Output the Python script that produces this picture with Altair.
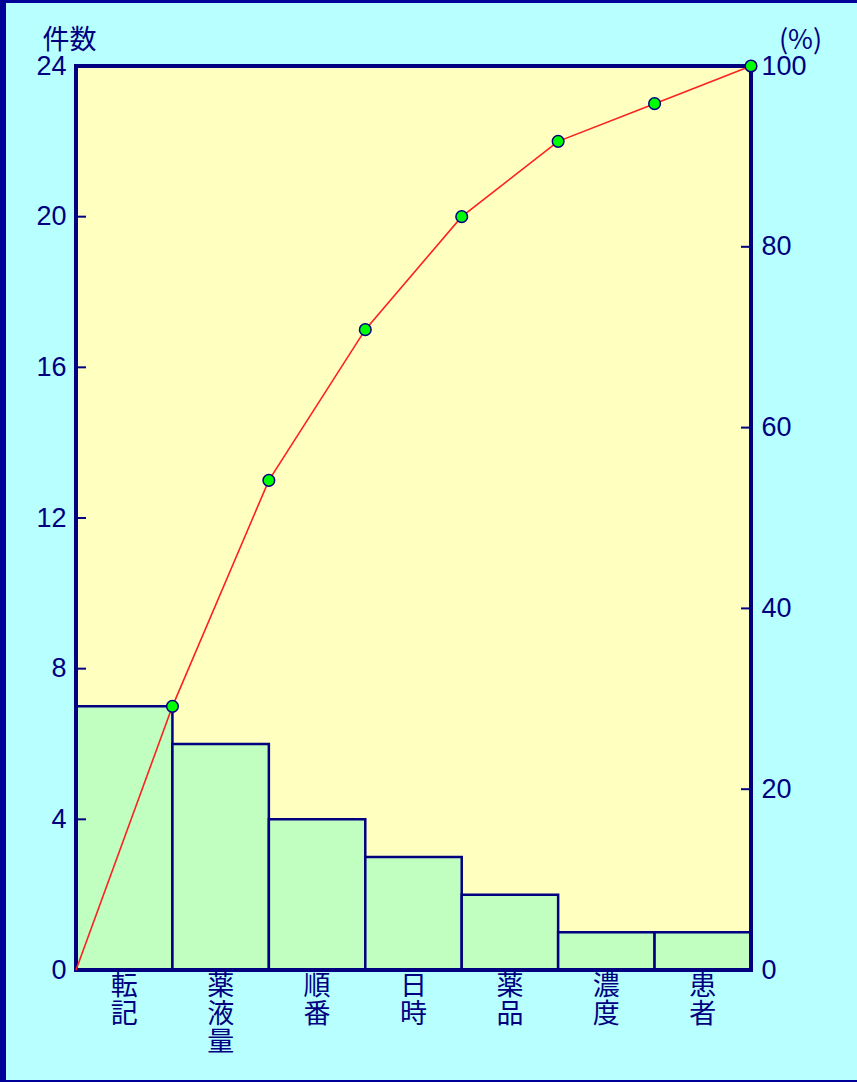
import altair as alt
import pandas as pd
import numpy as np

categories = ["転記", "薬液量", "順番", "日時", "薬品", "濃度", "患者"]
counts = [7, 6, 4, 3, 2, 1, 1]
left_ticks = [0, 4, 8, 12, 16, 20, 24]
pct_ticks = [0, 20, 40, 60, 80, 100]
total = 24

W, H = 675, 904
NAVY = "#000080"
NUMFONT = "Liberation Sans Narrow, Liberation Sans, sans-serif"
CJK = "Noto Sans CJK JP"

n = len(categories)
bars = pd.DataFrame({
    "x0": np.arange(n), "x1": np.arange(n) + 1, "mid": np.arange(n) + 0.5,
    "count": counts, "zero": 0, "label": ["\n".join(list(c)) for c in categories],
})
cum = np.cumsum(counts)
line_df = pd.DataFrame({"x": np.arange(n + 1), "cum": np.concatenate([[0], cum])})
pts_df = line_df.iloc[1:]
lt_df = pd.DataFrame({"v": left_ticks})
rt_df = pd.DataFrame({"v": [p * total / 100 for p in pct_ticks]})

xs = alt.Scale(domain=[0, n], nice=False, zero=False)
ys = alt.Scale(domain=[0, total], nice=False)
one = alt.Data(values=[{"a": 1}])

bg = alt.Chart(one).mark_rect(color="#b8ffff").encode(
    x=alt.value(-70), x2=alt.value(781), y=alt.value(-63), y2=alt.value(1014))
plotbg = alt.Chart(one).mark_rect(color="#ffffc0").encode(
    x=alt.value(0), x2=alt.value(W), y=alt.value(0), y2=alt.value(H))

bar = alt.Chart(bars).mark_rect(fill="#c0ffc0", stroke=NAVY, strokeWidth=2.5, opacity=1).encode(
    x=alt.X("x0:Q", scale=xs, axis=None), x2="x1:Q",
    y=alt.Y("count:Q", scale=ys, axis=alt.Axis(
        values=left_ticks, ticks=False, domain=False, grid=False,
        labelFont=NUMFONT, labelFontSize=27, labelColor=NAVY, labelPadding=10,
        labelFlush=False, zindex=1,
        title="件数", titleAngle=0, titleAlign="center", titleBaseline="middle",
        titleX=-7, titleY=-26, titleFont=CJK, titleFontSize=27,
        titleFontWeight="normal", titleColor=NAVY)),
    y2="zero:Q")

border = alt.Chart(one).mark_rect(fillOpacity=0, stroke=NAVY, strokeWidth=4).encode(
    x=alt.value(0), x2=alt.value(W), y=alt.value(0), y2=alt.value(H))

ltick = alt.Chart(lt_df).mark_rule(color=NAVY, strokeWidth=2).encode(
    x=alt.value(0), x2=alt.value(10), y=alt.Y("v:Q", scale=ys, axis=None))
rtick = alt.Chart(rt_df).mark_rule(color=NAVY, strokeWidth=2).encode(
    x=alt.value(W - 10), x2=alt.value(W),
    y=alt.Y("v:Q", scale=ys, axis=alt.Axis(
        orient="right", values=list(rt_df["v"]), labelExpr="round(datum.value*100/24)",
        ticks=False, domain=False, grid=False,
        labelFont=NUMFONT, labelFontSize=27, labelColor=NAVY, labelPadding=10,
        labelFlush=False, zindex=1,
        title="(%)", titleAngle=0, titleAlign="center", titleBaseline="middle",
        titleX=49, titleY=-26, titleFont=CJK, titleFontSize=27,
        titleFontWeight="normal", titleColor=NAVY)))

line = alt.Chart(line_df).mark_line(color="#ff2020", strokeWidth=1.6).encode(
    x=alt.X("x:Q", scale=xs, axis=None), y=alt.Y("cum:Q", scale=ys, axis=None))
pts = alt.Chart(pts_df).mark_circle(size=135, color="#00ff00", stroke=NAVY,
                                    strokeWidth=1.5, opacity=1).encode(
    x=alt.X("x:Q", scale=xs, axis=None), y=alt.Y("cum:Q", scale=ys, axis=None))

labels = alt.Chart(bars).mark_text(lineBreak="\n", baseline="top", align="center",
                                   fontSize=27, lineHeight=28, font=CJK, color=NAVY).encode(
    x=alt.X("mid:Q", scale=xs, axis=None), y=alt.value(H + 4), text="label:N")

chart = alt.layer(bg, plotbg, bar, border, ltick, rtick, line, pts, labels).resolve_scale(
    y="shared").resolve_axis(y="independent").properties(
    width=W, height=H, autosize=alt.AutoSizeParams(type="none"),
    padding={"left": 76, "top": 66, "right": 106, "bottom": 112},
    background="#000099").configure_view(strokeWidth=0)

chart.save("out.html", embed_options={"renderer": "svg", "actions": False})
